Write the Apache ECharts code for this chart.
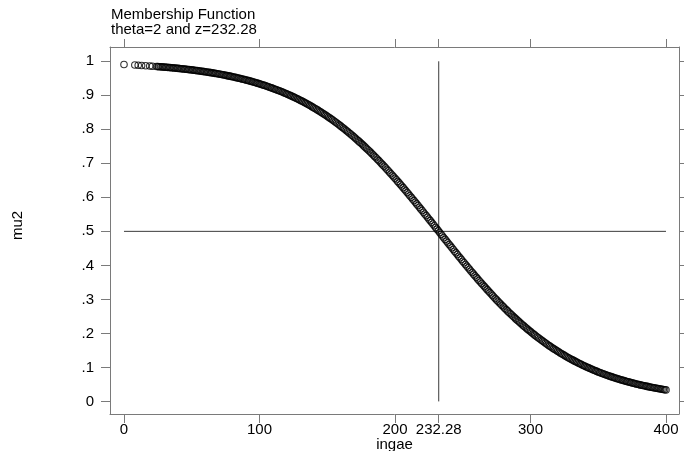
<!DOCTYPE html>
<html><head><meta charset="utf-8">
<script src="https://cdn.jsdelivr.net/npm/echarts@6/dist/echarts.min.js"></script>
<style>html,body{margin:0;padding:0;background:#fff}#c{width:684px;height:451px}</style>
</head><body><div id="c"></div>
<script>
const titleLines = ['Membership Function', 'theta=2 and z=232.28'];
const xName = 'ingae';
const yName = 'mu2';
const xTicks = [0, 100, 200, 232.28, 300, 400];
const yTicks = [0, 0.1, 0.2, 0.3, 0.4, 0.5, 0.6, 0.7, 0.8, 0.9, 1];
const refX = 232.28;
const refY = 0.5;
const refXSpan = [0, 1];
const refYSpan = [0, 400];

// observations, even ingae values (plus the first few)
const ingae = [0, 8, 10.5, 13, 16, 19, 21,
  24, 26, 28, 30, 32, 34, 36, 38, 40, 42, 44, 46, 48, 50, 52, 54, 56, 58, 60, 62, 64, 66, 68, 70,
  72, 74, 76, 78, 80, 82, 84, 86, 88, 90, 92, 94, 96, 98, 100, 102, 104, 106, 108, 110, 112, 114, 116, 118,
  120, 122, 124, 126, 128, 130, 132, 134, 136, 138, 140, 142, 144, 146, 148, 150, 152, 154, 156, 158,
  160, 162, 164, 166, 168, 170, 172, 174, 176, 178, 180, 182, 184, 186, 188, 190, 192, 194, 196, 198,
  200, 202, 204, 206, 208, 210, 212, 214, 216, 218, 220, 222, 224, 226, 228, 230, 232, 234, 236, 238,
  240, 242, 244, 246, 248, 250, 252, 254, 256, 258, 260, 262, 264, 266, 268, 270, 272, 274, 276, 278,
  280, 282, 284, 286, 288, 290, 292, 294, 296, 298, 300, 302, 304, 306, 308, 310, 312, 314, 316, 318,
  320, 322, 324, 326, 328, 330, 332, 334, 336, 338, 340, 342, 344, 346, 348, 350, 352, 354, 356, 358,
  360, 362, 364, 366, 368, 370, 372, 374, 376, 378, 380, 382, 384, 386, 388, 390, 392, 394, 396, 398, 400];

const mu2 = [0.9905, 0.9889, 0.9883, 0.9877, 0.9869, 0.9861, 0.9856,
  0.9847, 0.9841, 0.9835, 0.9828, 0.9821, 0.9814, 0.9807, 0.9799, 0.9791, 0.9782, 0.9774, 0.9765, 0.9755, 0.9746,
  0.9735, 0.9725, 0.9714, 0.9703, 0.9691, 0.9679, 0.9666, 0.9653, 0.9639, 0.9625,
  0.9610, 0.9595, 0.9579, 0.9563, 0.9546, 0.9528, 0.9510, 0.9491, 0.9471, 0.9451,
  0.9430, 0.9408, 0.9385, 0.9362, 0.9337, 0.9312, 0.9286, 0.9259, 0.9231, 0.9202,
  0.9172, 0.9142, 0.9110, 0.9077, 0.9043, 0.9007, 0.8971, 0.8934, 0.8895, 0.8855,
  0.8814, 0.8771, 0.8728, 0.8682, 0.8636, 0.8588, 0.8539, 0.8489, 0.8436, 0.8383,
  0.8328, 0.8272, 0.8214, 0.8154, 0.8093, 0.8031, 0.7966, 0.7901, 0.7834, 0.7765,
  0.7695, 0.7623, 0.7550, 0.7476, 0.7399, 0.7322, 0.7242, 0.7162, 0.7080, 0.6996,
  0.6912, 0.6826, 0.6738, 0.6650, 0.6560, 0.6469, 0.6378, 0.6285, 0.6191, 0.6096,
  0.6000, 0.5904, 0.5807, 0.5709, 0.5611, 0.5512, 0.5413, 0.5314, 0.5214, 0.5114,
  0.5014, 0.4914, 0.4814, 0.4714, 0.4615, 0.4516, 0.4417, 0.4318, 0.4221, 0.4123,
  0.4027, 0.3931, 0.3836, 0.3742, 0.3648, 0.3556, 0.3465, 0.3375, 0.3286, 0.3199,
  0.3112, 0.3027, 0.2943, 0.2861, 0.2780, 0.2700, 0.2622, 0.2546, 0.2471, 0.2397,
  0.2325, 0.2254, 0.2185, 0.2118, 0.2052, 0.1987, 0.1924, 0.1863, 0.1803, 0.1745,
  0.1688, 0.1632, 0.1578, 0.1526, 0.1475, 0.1425, 0.1377, 0.1330, 0.1285, 0.1241,
  0.1198, 0.1156, 0.1116, 0.1077, 0.1039, 0.1003, 0.0967, 0.0933, 0.0899, 0.0867,
  0.0836, 0.0806, 0.0777, 0.0749, 0.0721, 0.0695, 0.0670, 0.0645, 0.0621, 0.0598,
  0.0576, 0.0555, 0.0534, 0.0514, 0.0495, 0.0477, 0.0459, 0.0442, 0.0425, 0.0409,
  0.0394, 0.0379, 0.0365, 0.0351, 0.0338];

// observations, odd ingae values
const ingaeOdd = [25, 27, 29, 31, 33, 35, 37, 39, 41, 43, 45, 47, 49, 51, 53, 55, 57, 59, 61, 63,
  65, 67, 69, 71, 73, 75, 77, 79, 81, 83, 85, 87, 89, 91, 93, 95, 97, 99, 101, 103,
  105, 107, 109, 111, 113, 115, 117, 119, 121, 123, 125, 127, 129, 131, 133, 135, 137, 139, 141, 143,
  145, 147, 149, 151, 153, 155, 157, 159, 161, 163, 165, 167, 169, 171, 173, 175, 177, 179, 181, 183,
  185, 187, 189, 191, 193, 195, 197, 199, 201, 203, 205, 207, 209, 211, 213, 215, 217, 219, 221, 223,
  225, 227, 229, 231, 233, 235, 237, 239, 241, 243, 245, 247, 249, 251, 253, 255, 257, 259, 261, 263,
  265, 267, 269, 271, 273, 275, 277, 279, 281, 283, 285, 287, 289, 291, 293, 295, 297, 299, 301, 303,
  305, 307, 309, 311, 313, 315, 317, 319, 321, 323, 325, 327, 329, 331, 333, 335, 337, 339, 341, 343,
  345, 347, 349, 351, 353, 355, 357, 359, 361, 363, 365, 367, 369, 371, 373, 375, 377, 379, 381, 383,
  385, 387, 389, 391, 393, 395, 397, 399];

const mu2Odd = [0.9844, 0.9838, 0.9832, 0.9825, 0.9818, 0.9811, 0.9803, 0.9795, 0.9787, 0.9778,
  0.9770, 0.9760, 0.9751, 0.9741, 0.9730, 0.9720, 0.9709, 0.9697, 0.9685, 0.9673,
  0.9660, 0.9646, 0.9632, 0.9618, 0.9603, 0.9587, 0.9571, 0.9555, 0.9537, 0.9519,
  0.9501, 0.9481, 0.9461, 0.9441, 0.9419, 0.9397, 0.9374, 0.9350, 0.9325, 0.9299,
  0.9273, 0.9245, 0.9217, 0.9187, 0.9157, 0.9126, 0.9094, 0.9060, 0.9025, 0.8989,
  0.8953, 0.8915, 0.8875, 0.8835, 0.8793, 0.8750, 0.8705, 0.8659, 0.8612, 0.8564,
  0.8514, 0.8463, 0.8410, 0.8356, 0.8300, 0.8243, 0.8184, 0.8124, 0.8062, 0.7999,
  0.7934, 0.7868, 0.7800, 0.7730, 0.7659, 0.7587, 0.7513, 0.7438, 0.7361, 0.7282,
  0.7202, 0.7121, 0.7038, 0.6954, 0.6869, 0.6782, 0.6694, 0.6605, 0.6515, 0.6424,
  0.6332, 0.6238, 0.6144, 0.6048, 0.5952, 0.5856, 0.5758, 0.5660, 0.5562, 0.5463,
  0.5364, 0.5264, 0.5164, 0.5064, 0.4964, 0.4864, 0.4764, 0.4665, 0.4566, 0.4467,
  0.4368, 0.4270, 0.4172, 0.4075, 0.3979, 0.3884, 0.3789, 0.3695, 0.3602, 0.3511,
  0.3420, 0.3331, 0.3243, 0.3156, 0.3070, 0.2985, 0.2902, 0.2821, 0.2740, 0.2661,
  0.2584, 0.2509, 0.2434, 0.2361, 0.2290, 0.2220, 0.2152, 0.2085, 0.2020, 0.1956,
  0.1894, 0.1833, 0.1774, 0.1717, 0.1660, 0.1605, 0.1552, 0.1501, 0.1450, 0.1401,
  0.1354, 0.1308, 0.1263, 0.1220, 0.1177, 0.1136, 0.1097, 0.1058, 0.1021, 0.0985,
  0.0950, 0.0916, 0.0883, 0.0852, 0.0821, 0.0792, 0.0763, 0.0735, 0.0708, 0.0683,
  0.0658, 0.0633, 0.0610, 0.0587, 0.0566, 0.0545, 0.0524, 0.0505, 0.0486, 0.0468,
  0.0451, 0.0434, 0.0417, 0.0402, 0.0387, 0.0372, 0.0358, 0.0345];

const FONT = "'Liberation Sans', Arial, Helvetica, sans-serif";
const AX = '#7a7a7a';
const points = ingae.map((x, i) => [x, mu2[i]])
  .concat(ingaeOdd.map((x, i) => [x, mu2Odd[i]]));

const yFmt = v => {
  if (v === 0) return '0';
  if (v === 1) return '1';
  return String(v).replace(/^0/, '');
};

const chart = echarts.init(document.getElementById('c'), null, {renderer: 'canvas'});
chart.setOption({
  animation: false,
  backgroundColor: '#fff',
  title: {
    text: titleLines.join('\n'),
    left: 111, top: 7, padding: 0,
    textStyle: {fontFamily: FONT, fontSize: 15, fontWeight: 'normal', color: '#000', lineHeight: 15.5}
  },
  grid: {left: 110, top: 47, width: 569, height: 367, containLabel: false, outerBoundsMode: 'none'},
  xAxis: [{
    type: 'value', min: -10.33, max: 409.6, position: 'bottom',
    name: xName, nameLocation: 'middle', nameGap: 23, nameMoveOverlap: false,
    nameTextStyle: {fontFamily: FONT, fontSize: 15, color: '#000'},
    axisLine: {show: true, onZero: false, lineStyle: {color: AX, width: 1}},
    axisTick: {show: true, length: 9, lineStyle: {color: AX}, customValues: xTicks},
    axisLabel: {show: true, margin: 8, fontFamily: FONT, fontSize: 15, color: '#000',
      customValues: xTicks, formatter: v => String(v)},
    splitLine: {show: false}
  }, {
    type: 'value', min: -10.33, max: 409.6, position: 'top',
    axisLine: {show: true, onZero: false, lineStyle: {color: AX, width: 1}},
    axisTick: {show: true, length: 8, lineStyle: {color: AX}, customValues: xTicks},
    axisLabel: {show: false},
    splitLine: {show: false}
  }],
  yAxis: [{
    type: 'value', min: -0.037, max: 1.042, position: 'left',
    name: yName, nameLocation: 'middle', nameGap: 85, nameRotate: 90, nameMoveOverlap: false,
    nameTextStyle: {fontFamily: FONT, fontSize: 15, color: '#000', padding: [0, 0, 0, 10]},
    axisLine: {show: true, onZero: false, lineStyle: {color: AX, width: 1}},
    axisTick: {show: true, length: 9, lineStyle: {color: AX}, customValues: yTicks},
    axisLabel: {show: true, margin: 16, fontFamily: FONT, fontSize: 15, color: '#000',
      customValues: yTicks, formatter: yFmt},
    splitLine: {show: false}
  }, {
    type: 'value', min: -0.037, max: 1.042, position: 'right',
    axisLine: {show: true, onZero: false, lineStyle: {color: AX, width: 1}},
    axisTick: {show: true, length: 8, lineStyle: {color: AX}, customValues: yTicks},
    axisLabel: {show: false},
    splitLine: {show: false}
  }],
  series: [{
    type: 'line', xAxisIndex: 0, yAxisIndex: 0,
    data: [[refX, refXSpan[0]], [refX, refXSpan[1]]],
    symbol: 'none', lineStyle: {color: '#3a3a3a', width: 1}, silent: true, z: 1
  }, {
    type: 'line', xAxisIndex: 0, yAxisIndex: 0,
    data: [[refYSpan[0], refY], [refYSpan[1], refY]],
    symbol: 'none', lineStyle: {color: '#3a3a3a', width: 1}, silent: true, z: 1
  }, {
    type: 'scatter', xAxisIndex: 0, yAxisIndex: 0,
    data: points, symbol: 'circle', symbolSize: 6.5,
    itemStyle: {color: 'rgba(0,0,0,0)', borderColor: '#000', borderWidth: 1.1},
    z: 2
  }]
});
</script>
</body></html>
